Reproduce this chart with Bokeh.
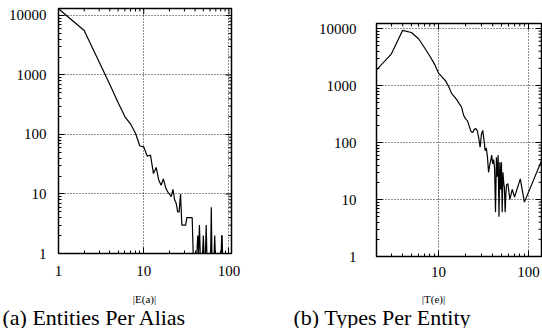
import math
from bokeh.plotting import figure
from bokeh.layouts import row, column
from bokeh.models import FixedTicker, PrintfTickFormatter, Range1d, Spacer
from bokeh.core.properties import value
from bokeh.embed import file_html
from bokeh.resources import INLINE

# ---------------- data ----------------
# (a) Entities Per Alias : |E(a)| -> number of aliases
alias_x = list(range(1, 108))
alias_counts = [
    13000, 5600, 1650, 690, 345, 200, 150, 105, 64, 62,      # 1-10
    43, 45, 22, 28, 17, 14, 18, 13, 11, 10,                  # 11-20
    9, 12, 8, 7, 5, 5, 10, 3, 3, 3,                          # 21-30
    3, 4, 4, 4, 4, 4, 4, 1, 1, 1,                            # 31-40
    1, 1, 2, 1, 3, 1, 1, 1, 1, 2,                            # 41-50
    1, 1, 1, 3, 1, 1, 1, 1, 1, 1,                            # 51-60
    1, 6, 1, 1, 1, 1, 1, 2, 1, 1,                            # 61-70
    1, 1, 1, 1, 1, 1, 1, 1, 1, 1,                            # 71-80
    1, 2, 2, 1, 1, 1, 1, 1, 1, 1,                            # 81-90
    1, 1, 1, 1, 1, 1, 1, 1, 1, 1,                            # 91-100
    1, 1, 1, 1, 1, 1, 1,                                     # 101-107
]

# (b) Types Per Entity : |T(e)| -> number of entities
entity_x = [2, 3, 4, 5, 6, 7, 8, 9, 10, 11, 12, 13, 14, 15, 16, 17, 18, 19, 20,
            21, 22, 23, 24, 25, 26, 27, 28, 29, 30, 31, 32, 33, 34, 35, 36, 37,
            38, 39, 40, 41, 42, 43, 44, 45, 46, 47, 48, 49, 50, 51, 52, 53, 54,
            55, 56, 57, 59, 62, 66, 70, 81, 90, 141]
entity_counts = [1800, 3600, 9300, 8500, 6600, 4600, 3300, 2400, 1650, 1400,
                 1200, 950, 720, 640, 560, 480, 420, 300, 260, 240, 190, 155,
                 150, 170, 175, 160, 120, 83, 140, 163, 110, 72, 80, 55, 30, 40,
                 48, 60, 42, 50, 35, 6, 55, 25, 60, 5, 45, 15, 45, 6, 30, 20,
                 16, 6, 12, 18, 19, 10, 15, 11, 23, 9, 50]

y_ticks = [1, 10, 100, 1000, 10000]
x_ticks = [1, 10, 100]
axis_titles = ["|E(a)|", "|T(e)|"]
captions = ["(a)  Entities Per Alias", "(b)  Types Per Entity"]

SERIF = "Liberation Serif"


def minor_of(lo_exp, hi_exp):
    return [m * 10 ** e for e in range(lo_exp, hi_exp) for m in range(2, 10)]


def style_axis(ax, ticks, minor, standoff):
    ax.ticker = FixedTicker(ticks=ticks, minor_ticks=minor)
    ax.major_tick_in = 6
    ax.major_tick_out = 0
    ax.minor_tick_in = 3
    ax.minor_tick_out = 0
    ax.axis_line_color = None
    ax.major_tick_line_color = "black"
    ax.minor_tick_line_color = "black"
    ax.formatter = PrintfTickFormatter(format="%d")
    ax.major_label_text_font = SERIF
    ax.major_label_text_font_size = "15px"
    ax.major_label_text_color = "black"
    ax.major_label_standoff = standoff


def make_plot(xs, ys, xr, yr, width, height, borders, y_standoff, x_standoff):
    left, right, top, bottom = borders
    p = figure(width=width, height=height, x_axis_type="log", y_axis_type="log",
               x_range=Range1d(*xr), y_range=Range1d(*yr), title=None,
               output_backend="svg", toolbar_location=None,
               min_border_left=left, min_border_right=right,
               min_border_top=top, min_border_bottom=bottom)
    p.background_fill_color = "white"
    p.border_fill_color = "white"
    p.outline_line_color = "black"
    p.outline_line_width = 1.5

    style_axis(p.xaxis[0], x_ticks, minor_of(0, 3), x_standoff)
    style_axis(p.yaxis[0], y_ticks, minor_of(0, 5), y_standoff)

    for g, t in ((p.xgrid[0], x_ticks), (p.ygrid[0], y_ticks)):
        g.ticker = FixedTicker(ticks=t)
        g.grid_line_color = "#222222"
        g.grid_line_dash = "1 2"
        g.grid_line_width = 1

    # mirrored ticks on the top and right edges (half of each dash is clipped)
    xmaj = [t for t in x_ticks if xr[0] <= t <= xr[1]]
    xmin = [t for t in minor_of(0, 3) if xr[0] <= t <= xr[1]]
    ymaj = [t for t in y_ticks if yr[0] <= t <= yr[1]]
    ymin = [t for t in minor_of(0, 5) if yr[0] <= t <= yr[1]]
    p.scatter(xmaj, [yr[1]] * len(xmaj), marker="dash", size=12,
              angle=math.pi / 2, line_color="black", line_width=1)
    p.scatter(xmin, [yr[1]] * len(xmin), marker="dash", size=6,
              angle=math.pi / 2, line_color="black", line_width=1)
    p.scatter([xr[1]] * len(ymaj), ymaj, marker="dash", size=12,
              line_color="black", line_width=1)
    p.scatter([xr[1]] * len(ymin), ymin, marker="dash", size=6,
              line_color="black", line_width=1)

    p.line(xs, ys, line_color="black", line_width=1.2)
    return p


# both plots share the same top/bottom borders (Bokeh aligns them in a row);
# the right one is pushed down with a spacer
p1 = make_plot(alias_x, alias_counts, (1, 107), (1, 13100), 288, 290,
               (58, 57, 8, 37), 12, 12)
p2 = make_plot(entity_x, entity_counts, (2.047, 139.4), (1, 12240), 254, 278,
               (88, 1, 8, 37), 20, 10)
right_col = column(Spacer(width=254, height=15), p2)

# caption strip below the two plots
p3 = figure(width=542, height=35, x_range=Range1d(0, 542), y_range=Range1d(0, 35),
            title=None, output_backend="svg", toolbar_location=None,
            min_border=0)
p3.outline_line_color = None
p3.xaxis.visible = False
p3.yaxis.visible = False
p3.grid.visible = False
p3.background_fill_color = "white"
p3.border_fill_color = "white"

p3.text(x=[144, 433], y=[30, 30], text=axis_titles, text_align="center",
        text_baseline="middle", text_font=value(SERIF),
        text_font_size=value("11px"), text_color="black")
p3.text(x=[2, 293], y=[11.5, 11.5], text=captions, text_align="left",
        text_baseline="middle", text_font=value(SERIF),
        text_font_size=value("22px"), text_color="black")

layout = column(row(p1, right_col), p3)
open("out.html", "w").write(file_html(layout, INLINE))
